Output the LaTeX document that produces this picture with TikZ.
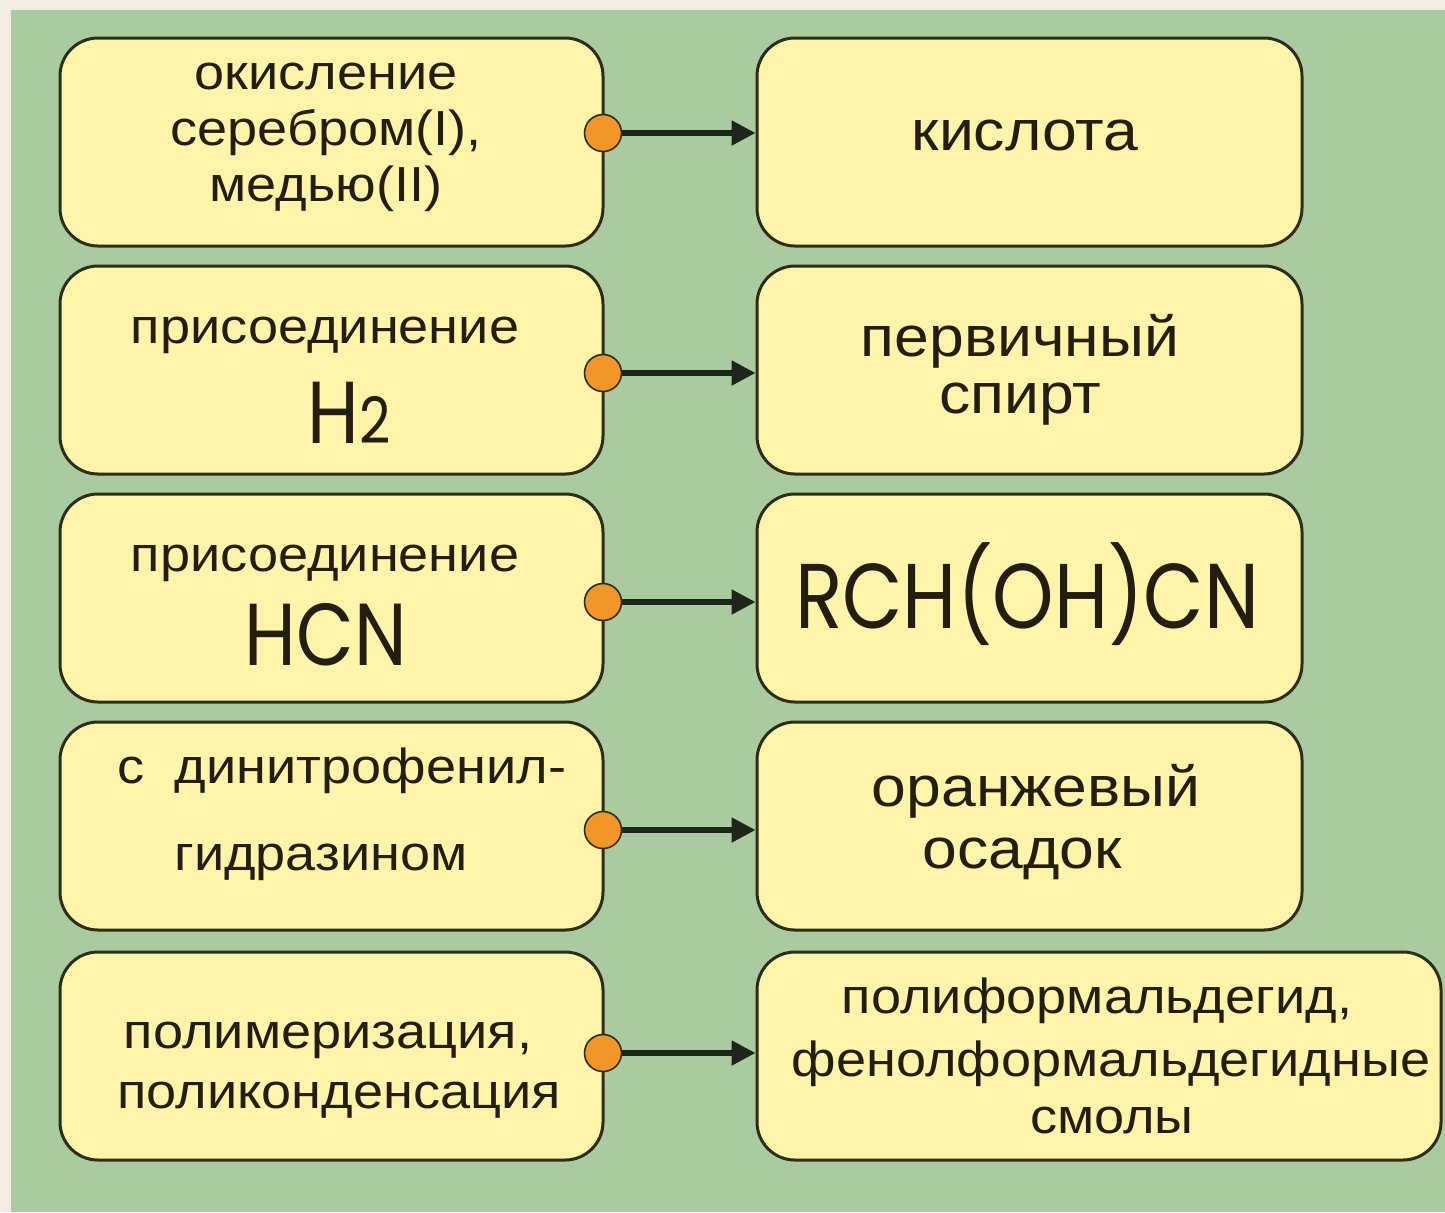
\documentclass[tikz,border=0pt]{standalone}
\usepackage{fontspec}
\setmainfont{Liberation Sans}[FakeStretch=1.1]
\newfontfamily\formfont{Poppins}[FakeStretch=0.85]
\usetikzlibrary{arrows.meta}
\definecolor{bgbeige}{RGB}{243,236,224}
\definecolor{panel}{RGB}{169,203,159}
\definecolor{boxfill}{RGB}{255,245,170}
\definecolor{boxline}{RGB}{45,45,25}
\definecolor{dotfill}{RGB}{242,150,40}
\definecolor{arrowcol}{RGB}{30,38,25}
\definecolor{textcol}{RGB}{35,30,15}
\begin{document}
\begin{tikzpicture}[x=0.5pt,y=-0.5pt,
  box/.style={draw=boxline, line width=1.5pt, fill=boxfill, rounded corners=19pt, minimum height=104pt, inner sep=0pt},
  lbox/.style={box, minimum width=271.5pt},
  rbox/.style={box, minimum width=272.5pt},
  wbox/.style={box, minimum width=342pt},
  dotn/.style={circle, draw=boxline, line width=0.8pt, fill=dotfill, minimum size=18.5pt, inner sep=0pt},
  conn/.style={draw=arrowcol, line width=2.6pt, -{Triangle[length=12pt,width=12pt]}},
  ltxt/.style={anchor=base, text=textcol, font=\fontsize{24.6}{29}\selectfont, inner sep=0pt},
  rtxt/.style={anchor=base, text=textcol, font=\fontsize{28.4}{33}\selectfont, inner sep=0pt},
  stxt/.style={anchor=base, text=textcol, font=\fontsize{24.6}{29}\selectfont, inner sep=0pt},
  ftxt/.style={anchor=base, text=textcol, font=\formfont\fontsize{44}{50}\selectfont, inner sep=0pt},
]
\useasboundingbox (0,0) rectangle (1445,1212);
\fill[bgbeige] (0,0) rectangle (1445,1212);
\fill[panel] (11,10) rectangle (1445,1212);

% boxes
\node[lbox] (l1) at (331.5,142) {};
\node[lbox] (l2) at (331.5,370) {};
\node[lbox] (l3) at (331.5,598) {};
\node[lbox] (l4) at (331.5,826) {};
\node[lbox] (l5) at (331.5,1056) {};
\node[rbox] (r1) at (1029.5,142) {};
\node[rbox] (r2) at (1029.5,370) {};
\node[rbox] (r3) at (1029.5,598) {};
\node[rbox] (r4) at (1029.5,826) {};
\node[wbox] (r5) at (1099,1056) {};

% dots
\node[dotn] (d1) at (603,133) {};
\node[dotn] (d2) at (603,373) {};
\node[dotn] (d3) at (603,602) {};
\node[dotn] (d4) at (603,830) {};
\node[dotn] (d5) at (603,1053) {};

% connectors
\draw[conn] (d1.east) -- (d1.east -| r1.west);
\draw[conn] (d2.east) -- (d2.east -| r2.west);
\draw[conn] (d3.east) -- (d3.east -| r3.west);
\draw[conn] (d4.east) -- (d4.east -| r4.west);
\draw[conn] (d5.east) -- (d5.east -| r5.west);

% left texts
\node[ltxt] (t1a) at (326,89) {окисление};
\node[ltxt] (t1b) at (326,145) {серебром(I),};
\node[ltxt] (t1c) at (326,201) {медью(II)};
\node[ltxt] (t2a) at (325,343) {присоединение};
\node[ftxt] (t2b) at (349,443) {H{\fontsize{32}{32}\selectfont 2}};
\node[ltxt] (t3a) at (325,571) {присоединение};
\node[ftxt] (t3b) at (326,665) {HCN};
\node[ltxt] (t4a) at (342,783) {с\ \ динитрофенил-};
\node[ltxt] (t4b) at (321,870) {гидразином};
\node[ltxt] (t5a) at (328,1048) {полимеризация,};
\node[ltxt] (t5b) at (339,1108) {поликонденсация};

% right texts
\node[rtxt] (u1) at (1025,150) {кислота};
\node[rtxt] (u2a) at (1020,356) {первичный};
\node[rtxt] (u2b) at (1020,413) {спирт};
\node[ftxt, font=\formfont\fontsize{46}{52}\selectfont] (u3) at (1027,628) {RCH(OH)CN};
\node[rtxt] (u4a) at (1036,806) {оранжевый};
\node[rtxt] (u4b) at (1022,868) {осадок};
\node[stxt] (u5a) at (1097,1013) {полиформальдегид,};
\node[stxt] (u5b) at (1111,1076) {фенолформальдегидные};
\node[stxt] (u5c) at (1112,1133) {смолы};
\end{tikzpicture}
\end{document}
